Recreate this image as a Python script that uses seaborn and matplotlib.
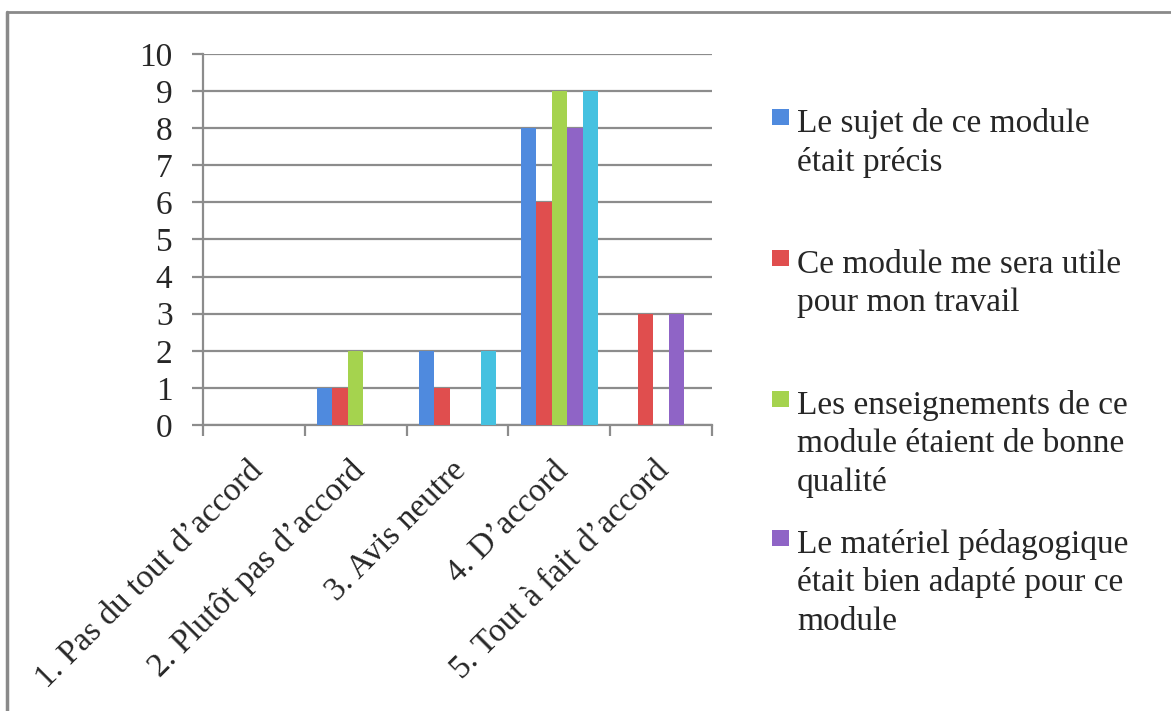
import matplotlib
matplotlib.use("Agg")
import matplotlib.pyplot as plt
import matplotlib.transforms as mtransforms
import seaborn as sns
import pandas as pd
from matplotlib.lines import Line2D
from matplotlib.patches import Rectangle

categories = ["1. Pas du tout d\u2019accord", "2. Plutôt pas d\u2019accord", "3. Avis neutre",
              "4. D\u2019accord", "5. Tout à fait d\u2019accord"]
series_names = [
    "Le sujet de ce module était précis",
    "Ce module me sera utile pour mon travail",
    "Les enseignements de ce module étaient de bonne qualité",
    "Le matériel pédagogique était bien adapté pour ce module",
    "Série 5",
]
legend_lines = [
    ["Le sujet de ce module", "était précis"],
    ["Ce module me sera utile", "pour mon travail"],
    ["Les enseignements de ce", "module étaient de bonne", "qualité"],
    ["Le matériel pédagogique", "était bien adapté pour ce", "module"],
]
s1 = [0, 1, 2, 8, 0]
s2 = [0, 1, 1, 6, 3]
s3 = [0, 2, 0, 9, 0]
s4 = [0, 0, 0, 8, 3]
s5 = [0, 0, 2, 9, 0]
colors = ["#4f8ade", "#e04e4e", "#a5d34e", "#8f64c6", "#45c1e0"]

rows = []
for name, vals in zip(series_names, [s1, s2, s3, s4, s5]):
    for c, v in zip(categories, vals):
        rows.append({"cat": c, "series": name, "val": v})
df = pd.DataFrame(rows)

sns.set_style("white")
plt.rcParams["font.family"] = ["Liberation Serif", "DejaVu Serif"]
FS = 24

W, H = 1171, 711
fig = plt.figure(figsize=(W / 100, H / 100), dpi=100)
ax = fig.add_axes([203 / W, 1 - 425 / H, (712 - 203) / W, (425 - 54) / H])

sns.barplot(data=df, x="cat", y="val", hue="series", order=categories,
            hue_order=series_names, palette=colors, width=0.76, gap=0,
            linewidth=0, saturation=1, ax=ax, legend=False, zorder=3)

grid_c = "#8c8c8c"
ax.set_ylim(0, 10)
ax.set_xlim(-0.5, 4.5)
ax.set_yticks(range(0, 11))
ax.set_yticklabels([str(i) for i in range(0, 11)], fontsize=FS)
ax.yaxis.grid(True, color=grid_c, linewidth=1.6, zorder=0)
ax.set_axisbelow(True)
ax.tick_params(axis="y", length=8, width=1.6, color=grid_c, pad=14, left=True)
for sp in ["top", "right"]:
    ax.spines[sp].set_visible(False)
for sp in ["left", "bottom"]:
    ax.spines[sp].set_color(grid_c)
    ax.spines[sp].set_linewidth(1.6)
ax.set_xlabel("")
ax.set_ylabel("")

ax.set_xticks([i - 0.5 for i in range(6)], minor=True)
ax.tick_params(axis="x", which="minor", length=8, width=1.6, color=grid_c, bottom=True)
ax.set_xticks(range(5))
ax.set_xticklabels(categories, rotation=45, ha="right", va="top",
                   rotation_mode="anchor", fontsize=FS)
ax.tick_params(axis="x", which="major", length=0, pad=22)
shift = mtransforms.ScaledTranslation(-7 / 100, 0, fig.dpi_scale_trans)
for lbl in ax.get_xticklabels():
    lbl.set_transform(lbl.get_transform() + shift)

# legend (manual, Office style)
first_baselines = [132, 273, 414, 553]
line_gap = 38.5
for i, (lines, base) in enumerate(zip(legend_lines, first_baselines)):
    fig.patches.append(Rectangle((772 / W, 1 - (base - 7) / H), 17 / W, 16 / H,
                                 transform=fig.transFigure, facecolor=colors[i],
                                 edgecolor="none"))
    for j, t in enumerate(lines):
        fig.text(797 / W, 1 - (base + j * line_gap) / H, t, fontsize=FS,
                 ha="left", va="baseline")

# outer frame (top and left edges visible)
fig.add_artist(Line2D([7 / W, 1.0], [1 - 12 / H, 1 - 12 / H], color="#8a8a8a",
                      linewidth=2, transform=fig.transFigure))
fig.add_artist(Line2D([7 / W, 7 / W], [0, 1 - 12 / H], color="#8a8a8a",
                      linewidth=2.5, transform=fig.transFigure))

fig.savefig("out.png", dpi=100)
